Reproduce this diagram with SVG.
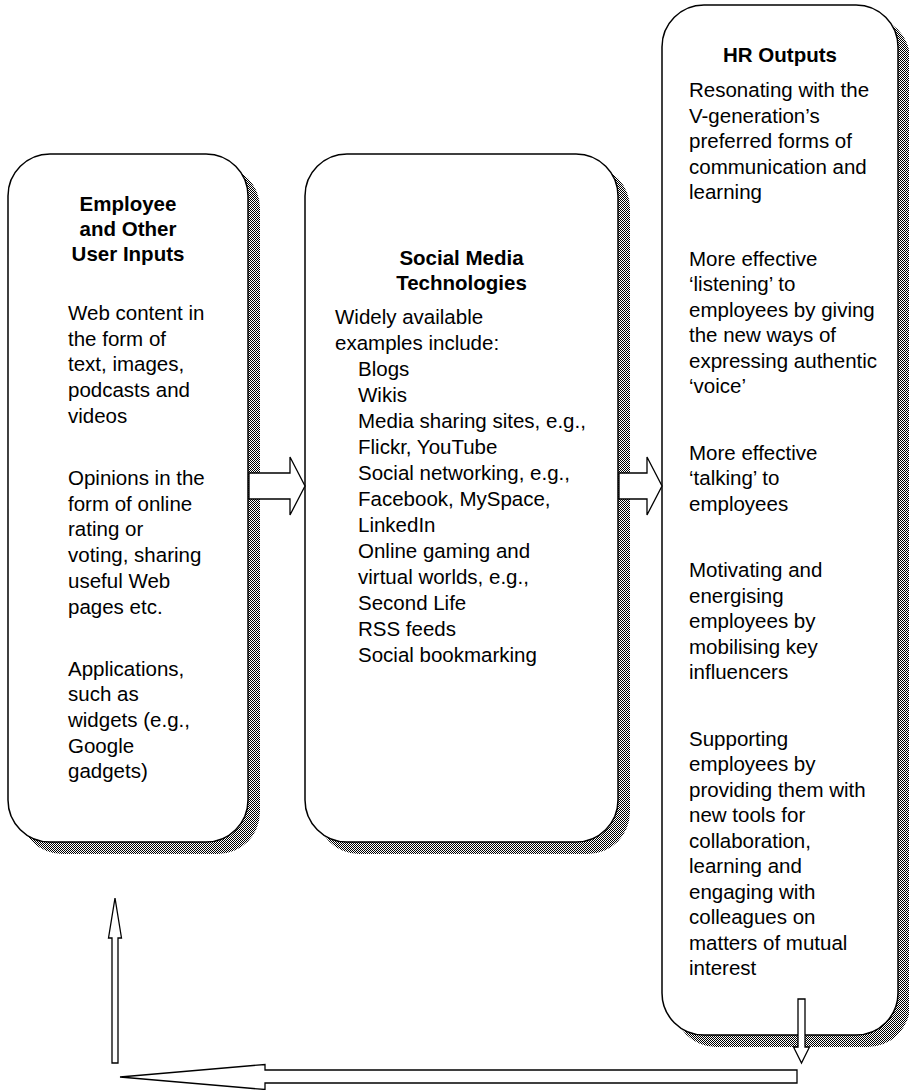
<svg xmlns="http://www.w3.org/2000/svg" width="909" height="1090" viewBox="0 0 909 1090">
  <defs>
    <!-- 1px checkerboard used for the drop shadows -->
    <pattern id="dither" width="2" height="2" patternUnits="userSpaceOnUse">
      <rect width="2" height="2" fill="#fff"/>
      <rect width="1" height="1" fill="#000"/>
      <rect x="1" y="1" width="1" height="1" fill="#000"/>
    </pattern>
  </defs>
  <style>
    .shadow { fill: url(#dither); }
    .box { fill: #fff; stroke: #000; stroke-width: 1.5; }
    .arrow { fill: #fff; stroke: #000; stroke-width: 1.3; stroke-linejoin: miter; }
    text { font-family: "Liberation Sans", Arial, Helvetica, sans-serif; font-size: 20.5px; fill: #000; }
    .title { font-weight: bold; text-anchor: middle; }
  </style>
  <rect width="909" height="1090" fill="#fff"/>

  <!-- Employee and other user inputs -->
  <g id="node-inputs">
    <rect class="shadow" x="20" y="166" width="240" height="688" rx="42"/>
    <rect class="box" x="8" y="154" width="240" height="688" rx="42"/>
    <text class="title" x="128" y="211">Employee</text>
    <text class="title" x="128" y="236">and Other</text>
    <text class="title" x="128" y="261">User Inputs</text>
    <text x="68" y="320">Web content in</text>
    <text x="68" y="345.7">the form of</text>
    <text x="68" y="371.4">text, images,</text>
    <text x="68" y="397.1">podcasts and</text>
    <text x="68" y="422.8">videos</text>
    <text x="68" y="485">Opinions in the</text>
    <text x="68" y="510.7">form of online</text>
    <text x="68" y="536.4">rating or</text>
    <text x="68" y="562.1">voting, sharing</text>
    <text x="68" y="587.8">useful Web</text>
    <text x="68" y="613.5">pages etc.</text>
    <text x="68" y="675.5">Applications,</text>
    <text x="68" y="701.2">such as</text>
    <text x="68" y="726.9">widgets (e.g.,</text>
    <text x="68" y="752.6">Google</text>
    <text x="68" y="778.3">gadgets)</text>
  </g>

  <!-- Social media technologies -->
  <g id="node-technologies">
    <rect class="shadow" x="317" y="166" width="313" height="688" rx="42"/>
    <rect class="box" x="305" y="154" width="313" height="688" rx="42"/>
    <text class="title" x="461.5" y="265">Social Media</text>
    <text class="title" x="461.5" y="290">Technologies</text>
    <text x="335" y="324">Widely available</text>
    <text x="335" y="350">examples include:</text>
    <text x="358" y="376">Blogs</text>
    <text x="358" y="402">Wikis</text>
    <text x="358" y="428">Media sharing sites, e.g.,</text>
    <text x="358" y="454">Flickr, YouTube</text>
    <text x="358" y="480">Social networking, e.g.,</text>
    <text x="358" y="506">Facebook, MySpace,</text>
    <text x="358" y="532">LinkedIn</text>
    <text x="358" y="558">Online gaming and</text>
    <text x="358" y="584">virtual worlds, e.g.,</text>
    <text x="358" y="610">Second Life</text>
    <text x="358" y="636">RSS feeds</text>
    <text x="358" y="662">Social bookmarking</text>
  </g>

  <!-- HR outputs -->
  <g id="node-outputs">
    <rect class="shadow" x="674" y="17" width="236" height="1030" rx="42"/>
    <rect class="box" x="662" y="5" width="236" height="1030" rx="42"/>
    <text class="title" x="780" y="62">HR Outputs</text>
    <text x="689" y="97">Resonating with the</text>
    <text x="689" y="122.5">V-generation’s</text>
    <text x="689" y="148">preferred forms of</text>
    <text x="689" y="173.5">communication and</text>
    <text x="689" y="199">learning</text>
    <text x="689" y="265.5">More effective</text>
    <text x="689" y="291">‘listening’ to</text>
    <text x="689" y="316.5">employees by giving</text>
    <text x="689" y="342">the new ways of</text>
    <text x="689" y="367.5">expressing authentic</text>
    <text x="689" y="393">‘voice’</text>
    <text x="689" y="459.5">More effective</text>
    <text x="689" y="485">‘talking’ to</text>
    <text x="689" y="510.5">employees</text>
    <text x="689" y="577">Motivating and</text>
    <text x="689" y="602.5">energising</text>
    <text x="689" y="628">employees by</text>
    <text x="689" y="653.5">mobilising key</text>
    <text x="689" y="679">influencers</text>
    <text x="689" y="745.5">Supporting</text>
    <text x="689" y="771">employees by</text>
    <text x="689" y="796.5">providing them with</text>
    <text x="689" y="822">new tools for</text>
    <text x="689" y="847.5">collaboration,</text>
    <text x="689" y="873">learning and</text>
    <text x="689" y="898.5">engaging with</text>
    <text x="689" y="924">colleagues on</text>
    <text x="689" y="949.5">matters of mutual</text>
    <text x="689" y="975">interest</text>
  </g>

  <!-- Block arrows -->
  <g id="connectors">
    <polygon class="arrow" points="249,473 290,473 290,457 305,486 290,515 290,499 249,499"/>
    <polygon class="arrow" points="619,473 647,473 647,457 662,486 647,515 647,499 619,499"/>
    <polygon class="arrow" points="798,999 805,999 805,1047 809.5,1047 801.5,1063 793.5,1047 798,1047"/>
    <polygon class="arrow" points="797,1070 265,1070 265,1064.5 120,1077 265,1089.5 265,1083 797,1083"/>
    <polygon class="arrow" points="112,1063 112,938 108.5,938 115,898 121.5,938 118,938 118,1063"/>
  </g>
</svg>
